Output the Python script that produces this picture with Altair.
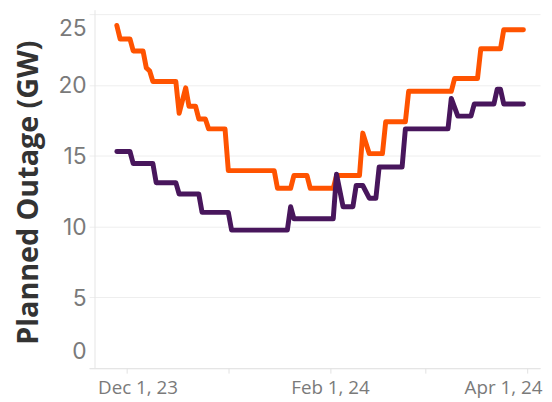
import altair as alt
import pandas as pd

FONT = "Open Sans"
NUM_FONT = "Inter"

# Orange series (GW)
orange_dates = ["2023-11-28", "2023-11-29", "2023-12-02", "2023-12-03", "2023-12-06",
                "2023-12-07", "2023-12-08", "2023-12-09", "2023-12-16", "2023-12-17",
                "2023-12-19", "2023-12-20", "2023-12-22", "2023-12-23", "2023-12-25",
                "2023-12-26", "2023-12-31", "2024-01-01", "2024-01-15", "2024-01-16",
                "2024-01-20", "2024-01-21", "2024-01-25", "2024-01-26", "2024-02-02",
                "2024-02-03", "2024-02-10", "2024-02-11", "2024-02-13", "2024-02-17",
                "2024-02-18", "2024-02-24", "2024-02-25", "2024-03-09", "2024-03-10",
                "2024-03-17", "2024-03-18", "2024-03-24", "2024-03-25", "2024-03-31"]
orange_values = [24.2, 23.25, 23.25, 22.4, 22.4,
                 21.2, 21.0, 20.25, 20.25, 18.0,
                 19.8, 18.5, 18.5, 17.6, 17.6,
                 16.9, 16.9, 13.95, 13.95, 12.7,
                 12.7, 13.6, 13.6, 12.7, 12.7,
                 13.6, 13.6, 16.6, 15.15, 15.15,
                 17.4, 17.4, 19.55, 19.55, 20.45,
                 20.45, 22.55, 22.55, 23.9, 23.9]

# Purple series (GW)
purple_dates = ["2023-11-28", "2023-12-02", "2023-12-03", "2023-12-09", "2023-12-10",
                "2023-12-16", "2023-12-17", "2023-12-23", "2023-12-24", "2024-01-01",
                "2024-01-02", "2024-01-19", "2024-01-20", "2024-01-21", "2024-02-02",
                "2024-02-03", "2024-02-05", "2024-02-08", "2024-02-09", "2024-02-11",
                "2024-02-13", "2024-02-15", "2024-02-16", "2024-02-23", "2024-02-24",
                "2024-03-08", "2024-03-09", "2024-03-11", "2024-03-15", "2024-03-16",
                "2024-03-22", "2024-03-23", "2024-03-24", "2024-03-25", "2024-03-31"]
purple_values = [15.3, 15.3, 14.45, 14.45, 13.1,
                 13.1, 12.3, 12.3, 11.0, 11.0,
                 9.75, 9.75, 11.4, 10.55, 10.55,
                 13.7, 11.4, 11.4, 12.9, 12.9,
                 12.0, 12.0, 14.2, 14.2, 16.9,
                 16.9, 19.05, 17.8, 17.8, 18.65,
                 18.65, 19.7, 19.7, 18.65, 18.65]

series_names = ["Orange", "Purple"]
series_colors = ["#FF5300", "#48165C"]

y_ticks = [0, 5, 10, 15, 20, 25]

rows = []
for d, v in zip(orange_dates, orange_values):
    rows.append({"date": d + "T00:00:00", "gw": v, "series": series_names[0]})
for d, v in zip(purple_dates, purple_values):
    rows.append({"date": d + "T00:00:00", "gw": v, "series": series_names[1]})
df = pd.DataFrame(rows)

W, H = 456, 362

x_scale = alt.Scale(domain=[alt.DateTime(year=2023, month=11, date=19, hours=13),
                            alt.DateTime(year=2024, month=4, date=5, hours=1, minutes=40)])
y_scale = alt.Scale(domain=[0, 25.28], nice=False, zero=False)

x_axis = alt.Axis(
    values=[alt.DateTime(year=2023, month=12, date=1), alt.DateTime(year=2024, month=1, date=1),
            alt.DateTime(year=2024, month=2, date=1), alt.DateTime(year=2024, month=3, date=1),
            alt.DateTime(year=2024, month=4, date=1)],
    labelExpr="month(datum.value) % 2 == 1 ? timeFormat(datum.value, '%b %-d, %y') : ''",
    grid=False, domainColor="#e2e2e2", tickColor="#e2e2e2", tickSize=5,
    labelFont=FONT, labelFontSize=19, labelColor="#7a7a7a", labelPadding=6,
    labelFlush=False, labelOverlap=False, title=None,
    labelOffset={"condition": [{"test": "month(datum.value) == 11", "value": 11},
                               {"test": "month(datum.value) == 3", "value": -24}],
                 "value": 0},
)
y_axis = alt.Axis(
    values=y_ticks, grid=True, gridColor="#eeeeee", domain=False, ticks=False,
    labelFont=NUM_FONT, labelFontSize=23, labelColor="#7a7a7a", labelPadding=3,
    labelFlush=10, labelFlushOffset=-3,
    labelOffset={"condition": {"test": "datum.value == 0", "value": -2}, "value": 1},
    title="Planned Outage (GW)", titleFont=FONT, titleFontSize=29, titleFontWeight="bold",
    titleColor="#333333", titleBaseline="alphabetic", titleX=-52, titleY=184, titleAngle=270,
)

lines = alt.Chart(df).mark_line(
    strokeWidth=5, strokeCap="round", strokeJoin="round"
).encode(
    x=alt.X("date:T", scale=x_scale, axis=x_axis),
    y=alt.Y("gw:Q", scale=y_scale, axis=y_axis),
    color=alt.Color("series:N", scale=alt.Scale(domain=series_names, range=series_colors), legend=None),
    order=alt.Order("date:T"),
)
vline = alt.Chart(pd.DataFrame({"k": [0]})).mark_rule(color="#e6e6e6", strokeWidth=1).encode(
    x=alt.value(6), y=alt.value(0), y2=alt.value(H)
)

chart = alt.layer(vline, lines).properties(
    width=W, height=H,
    padding={"left": 82, "top": 0, "right": 4, "bottom": 32},
    autosize=alt.AutoSizeParams(type="none"),
).configure(background="white").configure_view(strokeWidth=0, stroke=None)

chart.save("out.html", embed_options={"renderer": "svg", "actions": False})
